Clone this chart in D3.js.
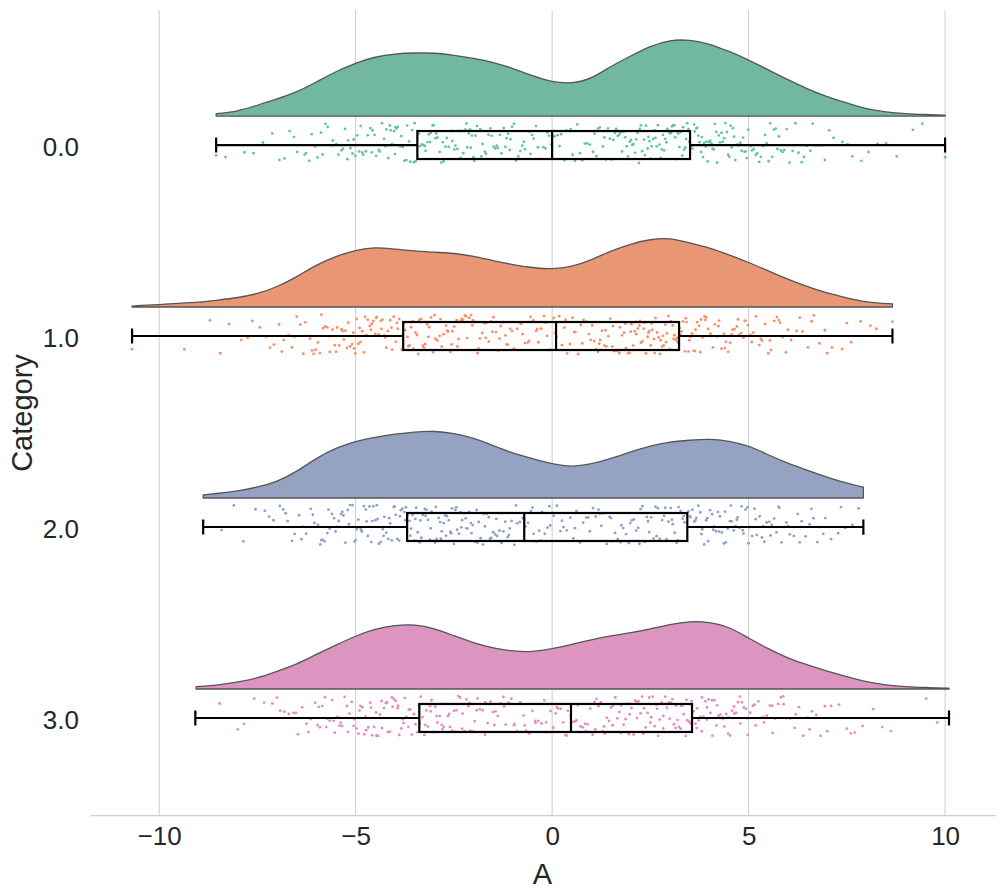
<!DOCTYPE html>
<html><head><meta charset="utf-8">
<script src="https://cdn.jsdelivr.net/npm/d3@7"></script>
<style>
html,body{margin:0;padding:0;background:#fff;}
svg{display:block;font-family:"Liberation Sans",Arial,Helvetica,sans-serif;}
</style></head>
<body>
<svg id="chart" width="1000" height="892"></svg>
<script>
const categories = ["0.0","1.0","2.0","3.0"];
const xTicks = [-10,-5,0,5,10];
const cloudColors = ["#71b7a1","#e99675","#95a3c3","#db95c0"];
const pointColors = ["#66c2a5","#fc8d62","#8da0cb","#e78ac3"];

const q1 = [-3.43,-3.79,-3.69,-3.38];
const medians = [0.0,0.10,-0.71,0.48];
const q3 = [3.51,3.23,3.44,3.56];
const whiskerLow = [-8.55,-10.69,-8.88,-9.08];
const whiskerHigh = [10.0,8.66,7.92,10.1];

const kdeX0 = [-8.55,-8,-7.5,-7,-6.5,-6,-5.5,-5,-4.5,-4,-3.5,-3,-2.5,-2,-1.5,-1,-0.5,0,0.5,1,1.5,2,2.5,3,3.5,4,4.5,5,5.5,6,6.5,7,7.5,8,8.5,9,9.5,10];
const kdeD0 = [.003,.006,.014,.022,.031,.044,.058,.069,.077,.081,.082,.082,.079,.075,.070,.062,.052,.044,.042,.048,.065,.078,.091,.099,.099,.094,.084,.073,.060,.047,.035,.025,.017,.009,.005,.003,.002,.001];
const kdeX1 = [-10.69,-10.5,-10,-9.5,-9,-8.5,-8,-7.5,-7,-6.5,-6,-5.5,-5,-4.5,-4,-3.5,-3,-2.5,-2,-1.5,-1,-0.5,0,0.5,1,1.5,2,2.5,3,3.5,4,4.5,5,5.5,6,6.5,7,7.5,8,8.66];
const kdeD1 = [.001,.002,.003,.005,.006,.009,.012,.017,.026,.039,.055,.066,.074,.078,.075,.073,.071,.070,.066,.060,.055,.051,.049,.052,.061,.073,.082,.088,.090,.083,.077,.068,.058,.047,.036,.026,.018,.012,.006,.004];
const kdeX2 = [-8.88,-8.5,-8,-7.5,-7,-6.5,-6,-5.5,-5,-4.5,-4,-3.5,-3,-2.5,-2,-1.5,-1,-0.5,0,0.5,1,1.5,2,2.5,3,3.5,4,4.5,5,5.5,6,6.5,7,7.5,7.92];
const kdeD2 = [.004,.006,.009,.014,.021,.034,.052,.065,.074,.079,.083,.086,.087,.084,.078,.068,.058,.051,.044,.040,.044,.051,.060,.068,.073,.075,.077,.074,.068,.056,.045,.036,.027,.019,.014];
const kdeX3 = [-9.06,-8.5,-8,-7.5,-7,-6.5,-6,-5.5,-5,-4.5,-4,-3.5,-3,-2.5,-2,-1.5,-1,-0.5,0,0.5,1,1.5,2,2.5,3,3.5,4,4.5,5,5.5,6,6.5,7,7.5,8,8.5,9,9.5,10.1];
const kdeD3 = [.003,.005,.009,.014,.023,.032,.045,.057,.069,.078,.083,.084,.079,.069,.060,.053,.049,.048,.052,.058,.064,.069,.073,.078,.084,.088,.087,.081,.066,.052,.040,.031,.023,.016,.009,.005,.003,.002,.001];

const points0 = [-8.55,-8.31,-7.83,-7.36,-7.12,-6.94,-6.81,-6.57,-6.49,-6.3,-6.26,-6.12,-6.03,
-5.97,-5.88,-5.84,-5.71,-5.62,-5.49,-5.44,-5.36,-5.27,-5.21,-5.19,-5.08,-5.05,-5.01,
-4.96,-4.91,-4.83,-4.81,-4.74,-4.62,-4.59,-4.57,-4.48,-4.41,-4.39,-4.28,-4.24,-4.22,-4.13,-4.11,-4.07,-4.02,-4.0,
-3.96,-3.93,-3.87,-3.84,-3.76,-3.71,-3.69,-3.61,-3.52,-3.5,-3.47,-3.39,-3.37,-3.31,-3.24,-3.22,-3.17,-3.11,-3.09,-3.04,-3.01,
-2.97,-2.92,-2.86,-2.78,-2.76,-2.71,-2.63,-2.55,-2.54,-2.46,-2.41,-2.33,-2.31,-2.26,-2.18,-2.16,-2.09,-2.07,-2.04,-2.0,
-1.98,-1.91,-1.83,-1.8,-1.71,-1.68,-1.57,-1.54,-1.49,-1.41,-1.38,-1.29,-1.23,-1.19,-1.16,-1.08,-1.06,-1.02,
-0.97,-0.86,-0.81,-0.72,-0.69,-0.58,-0.51,-0.47,-0.36,-0.32,-0.22,-0.17,-0.08,-0.02,
0.06,0.14,0.19,0.31,0.36,0.47,0.52,0.64,0.71,0.77,0.89,0.96,
1.04,1.08,1.17,1.21,1.29,1.33,1.42,1.47,1.51,1.6,1.63,1.71,1.74,1.82,1.86,1.93,1.98,
2.01,2.07,2.11,2.14,2.21,2.23,2.29,2.34,2.36,2.43,2.48,2.51,2.53,2.61,2.63,2.69,2.73,2.76,2.82,2.85,2.91,2.93,2.99,
3.03,3.05,3.11,3.13,3.19,3.21,3.27,3.31,3.33,3.39,3.41,3.47,3.49,3.55,3.57,3.63,3.67,3.69,3.75,3.79,3.81,3.87,3.91,3.93,3.99,
4.02,4.08,4.11,4.18,4.2,4.27,4.31,4.34,4.41,4.45,4.48,4.54,4.57,4.63,4.66,4.73,4.75,4.82,4.86,4.89,4.95,4.99,
5.06,5.09,5.18,5.22,5.31,5.37,5.42,5.51,5.55,5.64,5.69,5.77,5.82,5.91,5.97,
6.04,6.19,6.27,6.41,6.48,6.63,6.71,6.86,6.94,7.16,7.39,7.64,7.87,8.28,8.77,9.18,9.42,10.0];
const extra0 = [-7.6,-6.68,-6.18,-5.77,-5.58,-5.32,-5.13,-4.87,-4.69,-4.52,-4.33,-4.17,-3.99,-3.8,-3.64,-3.56,-3.43,-3.28,-3.14,-2.95,-2.82,-2.68,-2.49,-2.38,-2.21,-2.12,-1.95,-1.77,-1.62,-1.45,-1.33,-1.12,-0.92,-0.76,-0.55,-0.41,-0.12,0.23,0.58,0.83,1.13,1.37,1.56,1.67,1.78,1.9,2.04,2.17,2.26,2.39,2.45,2.57,2.66,2.79,2.88,2.96,3.08,3.16,3.24,3.36,3.44,3.52,3.61,3.72,3.84,3.96,4.05,4.14,4.24,4.38,4.51,4.6,4.7,4.79,4.92,5.13,5.27,5.46,5.6,5.73,5.86,6.12,6.35,6.57,6.79,7.05,7.52,8.05,8.5];

const points1 = [-10.69,-9.36,-8.71,-8.22,-7.91,-7.63,-7.44,-7.27,-7.08,
-6.95,-6.83,-6.71,-6.62,-6.5,-6.41,-6.33,-6.24,-6.16,-6.07,-6.02,
-5.96,-5.91,-5.83,-5.78,-5.72,-5.66,-5.59,-5.53,-5.47,-5.42,-5.36,-5.3,-5.26,-5.19,-5.14,-5.09,-5.04,-5.01,
-4.97,-4.93,-4.88,-4.83,-4.79,-4.73,-4.69,-4.64,-4.59,-4.55,-4.5,-4.46,-4.41,-4.36,-4.32,-4.27,-4.22,-4.18,-4.12,-4.07,-4.03,
-3.98,-3.93,-3.89,-3.83,-3.78,-3.74,-3.68,-3.63,-3.59,-3.53,-3.48,-3.44,-3.38,-3.33,-3.29,-3.23,-3.18,-3.13,-3.08,-3.03,
-2.97,-2.92,-2.86,-2.81,-2.76,-2.7,-2.65,-2.59,-2.54,-2.49,-2.43,-2.38,-2.33,-2.27,-2.22,-2.16,-2.11,-2.06,-2.01,
-1.96,-1.9,-1.84,-1.78,-1.72,-1.66,-1.61,-1.55,-1.49,-1.43,-1.37,-1.31,-1.25,-1.19,-1.13,-1.07,-1.02,
-0.96,-0.89,-0.82,-0.75,-0.69,-0.62,-0.55,-0.48,-0.41,-0.35,-0.28,-0.21,-0.13,-0.06,
0.04,0.11,0.18,0.25,0.31,0.38,0.45,0.52,0.59,0.66,0.73,0.8,0.87,0.94,
1.02,1.07,1.12,1.17,1.22,1.27,1.33,1.38,1.43,1.48,1.53,1.58,1.63,1.68,1.73,1.78,1.83,1.88,1.93,1.97,
2.02,2.06,2.1,2.14,2.18,2.22,2.26,2.3,2.35,2.39,2.43,2.47,2.51,2.55,2.59,2.63,2.67,2.71,2.76,2.8,2.84,2.88,2.92,2.96,
3.02,3.07,3.11,3.15,3.2,3.24,3.29,3.33,3.38,3.42,3.47,3.51,3.56,3.6,3.65,3.69,3.74,3.79,3.83,3.88,3.92,3.97,
4.03,4.09,4.14,4.2,4.25,4.31,4.37,4.42,4.48,4.53,4.59,4.64,4.7,4.76,4.81,4.87,4.92,4.98,
5.04,5.12,5.19,5.27,5.34,5.42,5.5,5.57,5.65,5.72,5.8,5.87,5.95,
6.08,6.22,6.37,6.51,6.66,6.8,6.94,7.12,7.38,7.61,7.85,8.25,8.66];
const extra1 = [-8.45,-7.75,-7.18,-6.88,-6.56,-6.28,-6.11,-5.87,-5.69,-5.5,-5.33,-5.22,-5.06,-4.9,-4.76,-4.61,-4.48,-4.34,-4.25,-4.09,-3.95,-3.8,-3.66,-3.55,-3.41,-3.26,-3.15,-2.99,-2.84,-2.67,-2.56,-2.41,-2.3,-2.19,-2.03,-1.87,-1.69,-1.52,-1.34,-1.16,-0.99,-0.79,-0.58,-0.38,-0.17,0.08,0.34,0.56,0.77,0.98,1.2,1.36,1.55,1.71,1.86,2.0,2.12,2.24,2.33,2.45,2.53,2.61,2.74,2.82,2.9,2.99,3.09,3.18,3.27,3.4,3.49,3.63,3.77,3.9,4.06,4.23,4.4,4.57,4.73,4.9,5.08,5.31,5.54,5.77,6.0,6.3,6.6,7.0,7.5,8.1];

const points2 = [-8.88,-8.41,-7.86,-7.55,-7.31,-7.09,
-6.93,-6.84,-6.73,-6.62,-6.55,-6.44,-6.33,-6.26,-6.14,-6.05,
-5.96,-5.9,-5.84,-5.79,-5.72,-5.66,-5.6,-5.55,-5.49,-5.43,-5.37,-5.31,-5.26,-5.2,-5.14,-5.08,-5.03,
-4.97,-4.93,-4.88,-4.84,-4.79,-4.74,-4.69,-4.65,-4.6,-4.55,-4.5,-4.46,-4.41,-4.36,-4.31,-4.27,-4.22,-4.17,-4.12,-4.08,-4.03,
-3.98,-3.94,-3.89,-3.85,-3.81,-3.76,-3.72,-3.68,-3.63,-3.59,-3.55,-3.5,-3.46,-3.42,-3.37,-3.33,-3.29,-3.24,-3.2,-3.16,-3.11,-3.07,-3.02,
-2.98,-2.94,-2.89,-2.85,-2.81,-2.76,-2.72,-2.68,-2.63,-2.59,-2.55,-2.5,-2.46,-2.42,-2.37,-2.33,-2.29,-2.24,-2.2,-2.16,-2.11,-2.07,-2.02,
-1.97,-1.92,-1.87,-1.82,-1.76,-1.71,-1.66,-1.61,-1.55,-1.5,-1.45,-1.4,-1.34,-1.29,-1.24,-1.19,-1.13,-1.08,-1.03,
-0.96,-0.89,-0.82,-0.75,-0.68,-0.61,-0.54,-0.47,-0.4,-0.33,-0.26,-0.19,-0.12,-0.05,
0.04,0.12,0.21,0.29,0.37,0.46,0.54,0.62,0.71,0.79,0.87,0.96,
1.04,1.11,1.18,1.25,1.32,1.39,1.46,1.53,1.6,1.67,1.74,1.81,1.88,1.95,
2.03,2.08,2.14,2.19,2.25,2.3,2.36,2.41,2.47,2.52,2.58,2.63,2.69,2.74,2.8,2.85,2.91,2.96,
3.02,3.07,3.12,3.17,3.22,3.27,3.32,3.37,3.42,3.47,3.52,3.57,3.62,3.67,3.72,3.77,3.82,3.87,3.92,3.97,
4.02,4.07,4.12,4.17,4.22,4.27,4.32,4.37,4.42,4.47,4.52,4.57,4.62,4.67,4.72,4.77,4.82,4.87,4.92,4.97,
5.03,5.09,5.15,5.21,5.28,5.34,5.4,5.46,5.53,5.59,5.65,5.71,5.78,5.84,5.9,5.96,
6.05,6.15,6.25,6.35,6.45,6.55,6.65,6.75,6.85,6.95,7.1,7.28,7.46,7.64,7.8,7.92];
const extra2 = [-8.1,-7.2,-6.78,-6.38,-6.09,-5.87,-5.69,-5.51,-5.34,-5.17,-5.0,-4.86,-4.72,-4.58,-4.44,-4.29,-4.15,-4.01,-3.87,-3.74,-3.61,-3.48,-3.35,-3.22,-3.09,-2.96,-2.83,-2.7,-2.57,-2.44,-2.31,-2.18,-2.05,-1.9,-1.74,-1.58,-1.42,-1.26,-1.1,-0.92,-0.71,-0.5,-0.29,-0.07,0.25,0.58,0.92,1.22,1.5,1.76,1.99,2.22,2.44,2.66,2.88,3.05,3.2,3.35,3.5,3.65,3.8,3.95,4.1,4.25,4.4,4.55,4.7,4.85,5.0,5.18,5.37,5.56,5.76,6.0,6.3,6.6,6.9,7.35];

const points3 = [-9.08,-8.46,-7.84,-7.58,-7.33,-7.12,
-6.92,-6.81,-6.7,-6.58,-6.47,-6.36,-6.25,-6.14,-6.03,
-5.97,-5.91,-5.85,-5.78,-5.72,-5.66,-5.6,-5.53,-5.47,-5.41,-5.35,-5.28,-5.22,-5.16,-5.1,-5.03,
-4.98,-4.93,-4.88,-4.83,-4.78,-4.73,-4.68,-4.63,-4.58,-4.53,-4.48,-4.43,-4.38,-4.33,-4.28,-4.23,-4.18,-4.13,-4.08,-4.03,
-3.98,-3.93,-3.89,-3.84,-3.8,-3.75,-3.71,-3.66,-3.61,-3.57,-3.52,-3.48,-3.43,-3.39,-3.34,-3.3,-3.25,-3.2,-3.16,-3.11,-3.07,-3.02,
-2.97,-2.92,-2.86,-2.81,-2.76,-2.71,-2.65,-2.6,-2.55,-2.5,-2.44,-2.39,-2.34,-2.29,-2.23,-2.18,-2.13,-2.08,-2.02,
-1.97,-1.9,-1.84,-1.77,-1.71,-1.64,-1.57,-1.51,-1.44,-1.38,-1.31,-1.24,-1.18,-1.11,-1.04,
-0.96,-0.89,-0.81,-0.73,-0.66,-0.58,-0.5,-0.43,-0.35,-0.27,-0.2,-0.12,-0.04,
0.03,0.09,0.15,0.22,0.28,0.34,0.4,0.47,0.53,0.59,0.65,0.72,0.78,0.84,0.9,0.97,
1.03,1.08,1.13,1.18,1.24,1.29,1.34,1.39,1.45,1.5,1.55,1.61,1.66,1.71,1.76,1.82,1.87,1.92,1.97,
2.02,2.07,2.11,2.16,2.2,2.25,2.29,2.34,2.38,2.43,2.47,2.52,2.56,2.61,2.65,2.7,2.74,2.79,2.83,2.88,2.92,2.97,
3.02,3.06,3.1,3.15,3.19,3.23,3.27,3.31,3.35,3.4,3.44,3.48,3.52,3.56,3.6,3.65,3.69,3.73,3.77,3.81,3.85,3.9,3.94,3.98,
4.03,4.08,4.13,4.18,4.23,4.28,4.33,4.38,4.43,4.48,4.53,4.58,4.63,4.68,4.73,4.78,4.83,4.88,4.93,4.98,
5.04,5.11,5.18,5.25,5.32,5.39,5.46,5.54,5.61,5.68,5.75,5.82,5.89,5.96,
6.06,6.17,6.28,6.39,6.5,6.61,6.72,6.83,6.94,7.1,7.3,7.5,7.7,7.9,8.17,8.62,9.52,10.1];
const extra3 = [-8.0,-7.0,-6.52,-6.2,-5.94,-5.75,-5.56,-5.38,-5.2,-5.05,-4.9,-4.75,-4.61,-4.47,-4.34,-4.2,-4.06,-3.92,-3.78,-3.65,-3.51,-3.37,-3.23,-3.09,-2.94,-2.79,-2.62,-2.46,-2.28,-2.1,-1.92,-1.7,-1.47,-1.22,-0.97,-0.7,-0.42,-0.15,0.12,0.37,0.62,0.86,1.1,1.32,1.54,1.75,1.95,2.14,2.32,2.5,2.67,2.83,2.99,3.14,3.28,3.42,3.55,3.68,3.81,3.94,4.07,4.2,4.34,4.48,4.63,4.79,4.96,5.15,5.37,5.6,5.88,6.2,6.55,7.0,7.6,8.4,9.8];

const kdeX = [kdeX0,kdeX1,kdeX2,kdeX3];
const kdeD = [kdeD0,kdeD1,kdeD2,kdeD3];
const points = [points0.concat(extra0), points1.concat(extra1), points2.concat(extra2), points3.concat(extra3)];

const svg = d3.select("#chart");
const x = d3.scaleLinear().domain([-11.76, 11.27]).range([90, 995]);
const y = d3.scaleLinear().domain([-0.707, 3.508]).range([10, 815]);
const dens = d3.scaleLinear().domain([0, 0.1]).range([0, 77]);
const cloudOffset = 29, boxHalf = 14, capHalf = 7.5, jitterHalf = 20;

// grid
svg.append("g").selectAll("line").data(xTicks).join("line")
  .attr("x1", d => x(d)).attr("x2", d => x(d))
  .attr("y1", y.range()[0]).attr("y2", y.range()[1])
  .attr("stroke", "#cccccc").attr("stroke-width", 1);

// bottom axis
const xAxis = d3.axisBottom(x).tickValues(xTicks).tickSize(0).tickPadding(0)
  .tickFormat(d => d < 0 ? "\u2212" + Math.abs(d) : String(d));
const gx = svg.append("g").attr("transform", `translate(0,${y.range()[1]})`).call(xAxis);
gx.select(".domain").attr("stroke", "#cccccc").attr("stroke-width", 1.25);
gx.selectAll("text").attr("font-size", 26).attr("fill", "#262626")
  .attr("dy", null).attr("y", 30).attr("font-family", "Liberation Sans, Arial, sans-serif");

// y tick labels
const yAxis = d3.axisLeft(y).tickValues([0,1,2,3]).tickSize(0).tickPadding(0)
  .tickFormat((d, i) => categories[i]);
const gy = svg.append("g").attr("transform", "translate(79,0)").call(yAxis);
gy.select(".domain").remove();
gy.selectAll("text").attr("font-size", 26).attr("fill", "#262626")
  .attr("x", 0).attr("dy", "0.4em").attr("font-family", "Liberation Sans, Arial, sans-serif");

// axis labels
svg.append("text").attr("x", (x.range()[0] + x.range()[1]) / 2).attr("y", 884)
  .attr("text-anchor", "middle").attr("font-size", 29).attr("fill", "#262626").text("A");
svg.append("text").attr("transform", "translate(32,413) rotate(-90)")
  .attr("text-anchor", "middle").attr("font-size", 29).attr("fill", "#262626").text("Category");

// clouds
categories.forEach((c, i) => {
  const base = y(i) - cloudOffset;
  const pts = kdeX[i].map((v, k) => [v, kdeD[i][k]]);
  const area = d3.area().x(d => x(d[0])).y0(base)
    .y1(d => base - dens(d[1])).curve(d3.curveBasis);
  svg.append("path").datum(pts).attr("d", area)
    .attr("fill", cloudColors[i]).attr("stroke", "#555555").attr("stroke-width", 1.3)
    .attr("stroke-linejoin", "round");
});

// points (rain) with deterministic jitter
function jit(i, k) {
  const s = Math.sin(k * 78.233 + i * 12.9898 + 1.7) * 43758.5453;
  return (s - Math.floor(s)) * 2 - 1;
}
categories.forEach((c, i) => {
  svg.append("g").selectAll("circle").data(points[i]).join("circle")
    .attr("cx", d => x(d))
    .attr("cy", (d, k) => y(i) - 2 + jit(i, k) * jitterHalf)
    .attr("r", 1.4)
    .attr("fill", pointColors[i]);
});

// boxes
categories.forEach((c, i) => {
  const cy = y(i);
  const g = svg.append("g").attr("stroke", "#000").attr("stroke-width", 2.2).attr("fill", "none");
  g.append("rect").attr("x", x(q1[i])).attr("y", cy - boxHalf)
    .attr("width", x(q3[i]) - x(q1[i])).attr("height", 2 * boxHalf);
  g.append("line").attr("x1", x(medians[i])).attr("x2", x(medians[i]))
    .attr("y1", cy - boxHalf).attr("y2", cy + boxHalf);
  g.append("line").attr("x1", x(whiskerLow[i])).attr("x2", x(q1[i])).attr("y1", cy).attr("y2", cy);
  g.append("line").attr("x1", x(q3[i])).attr("x2", x(whiskerHigh[i])).attr("y1", cy).attr("y2", cy);
  [whiskerLow[i], whiskerHigh[i]].forEach(w => {
    g.append("line").attr("x1", x(w)).attr("x2", x(w)).attr("y1", cy - capHalf).attr("y2", cy + capHalf);
  });
});
</script>
</body></html>
